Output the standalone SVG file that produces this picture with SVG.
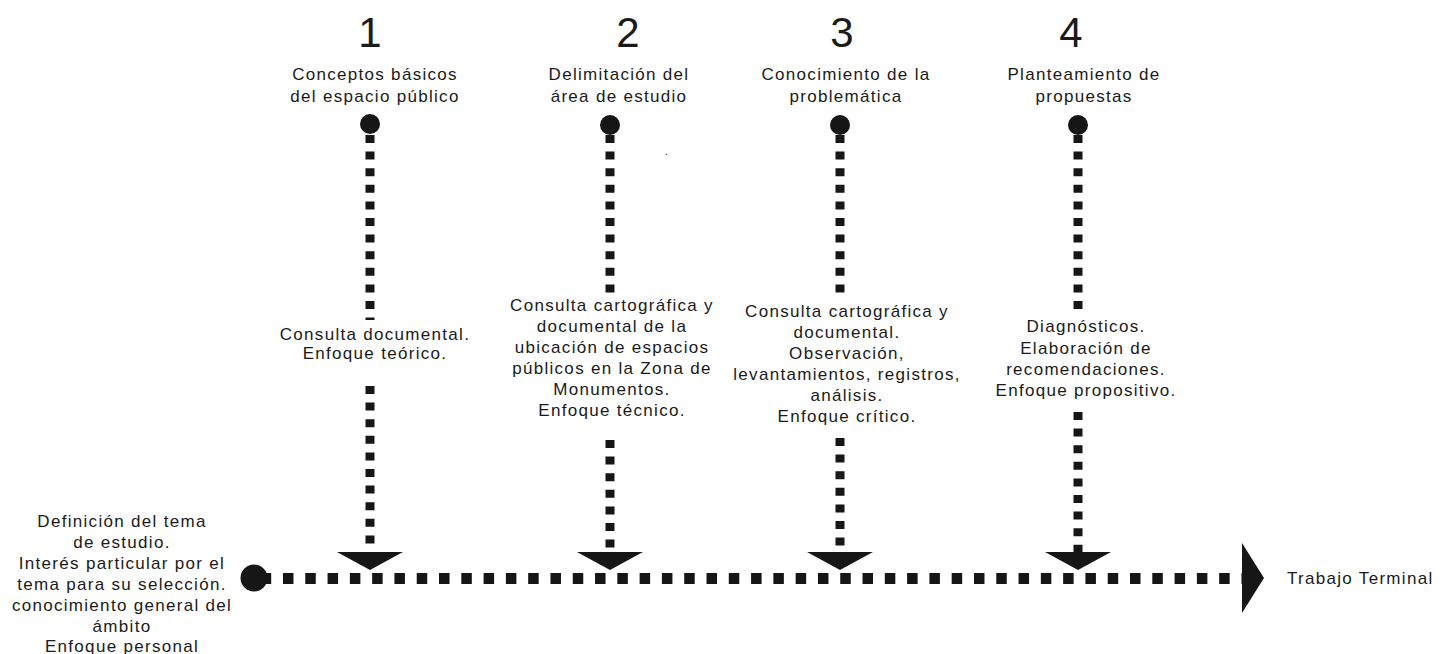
<svg xmlns="http://www.w3.org/2000/svg" width="1454" height="654" viewBox="0 0 1454 654">
<style>
text{font-family:"Liberation Sans",Arial,sans-serif;fill:#1a1a1a;font-size:17px;letter-spacing:1.3px;text-anchor:middle}
.num{font-size:42px;letter-spacing:0}
.v{stroke:#161616;stroke-width:9;stroke-dasharray:8 8.6;fill:none}
.h{stroke:#161616;stroke-width:11;stroke-dasharray:10.5 11.79;fill:none}
.dot{fill:#161616}
.tri{fill:#161616}
</style>
<g id="connectors">
<line class="h" x1="260.7" y1="578.5" x2="1245" y2="578.5"/>
<polygon class="tri" points="1242,543 1264,578 1242,613"/>
<line class="v" x1="370" y1="135" x2="370" y2="320"/>
<line class="v" x1="370" y1="386" x2="370" y2="552"/>
<polygon class="tri" points="337,552 403,552 370,570"/>
<line class="v" x1="610" y1="135" x2="610" y2="296"/>
<line class="v" x1="610" y1="440" x2="610" y2="552"/>
<polygon class="tri" points="577,552 643,552 610,570"/>
<line class="v" x1="840" y1="135" x2="840" y2="296"/>
<line class="v" x1="840" y1="438" x2="840" y2="552"/>
<polygon class="tri" points="807,552 873,552 840,570"/>
<line class="v" x1="1078" y1="135" x2="1078" y2="316"/>
<line class="v" x1="1078" y1="412" x2="1078" y2="552"/>
<polygon class="tri" points="1045,552 1111,552 1078,570"/>
</g>
<g id="start">
<circle class="dot" cx="254" cy="578" r="13.5"/>
<text x="122" y="527">Definición del tema</text>
<text x="122" y="548">de estudio.</text>
<text x="122" y="569">Interés particular por el</text>
<text x="122" y="590">tema para su selección.</text>
<text x="122" y="611">conocimiento general del</text>
<text x="122" y="632">ámbito</text>
<text x="122" y="652">Enfoque personal</text>
</g>
<g id="end">
<text x="1287" y="584" style="text-anchor:start">Trabajo Terminal</text>
</g>
<g id="step1">
<text class="num" x="370" y="47">1</text>
<text x="375" y="80">Conceptos básicos</text>
<text x="375" y="102">del espacio público</text>
<circle class="dot" cx="370" cy="124" r="10"/>
<text x="375" y="340">Consulta documental.</text>
<text x="375" y="359">Enfoque teórico.</text>
</g>
<g id="step2">
<text class="num" x="628" y="47">2</text>
<text x="619" y="80">Delimitación del</text>
<text x="619" y="102">área de estudio</text>
<circle class="dot" cx="610" cy="125" r="10"/>
<text x="667" y="155" style="font-size:10px">.</text>
<text x="612" y="311">Consulta cartográfica y</text>
<text x="612" y="332">documental de la</text>
<text x="612" y="353">ubicación de espacios</text>
<text x="612" y="374">públicos en la Zona de</text>
<text x="612" y="395">Monumentos.</text>
<text x="612" y="416">Enfoque técnico.</text>
</g>
<g id="step3">
<text class="num" x="842" y="47">3</text>
<text x="846" y="80">Conocimiento de la</text>
<text x="846" y="102">problemática</text>
<circle class="dot" cx="840" cy="125" r="10"/>
<text x="847" y="317">Consulta cartográfica y</text>
<text x="847" y="338">documental.</text>
<text x="847" y="359">Observación,</text>
<text x="847" y="380">levantamientos, registros,</text>
<text x="847" y="401">análisis.</text>
<text x="847" y="422">Enfoque crítico.</text>
</g>
<g id="step4">
<text class="num" x="1071" y="47">4</text>
<text x="1084" y="80">Planteamiento de</text>
<text x="1084" y="102">propuestas</text>
<circle class="dot" cx="1078" cy="125" r="10"/>
<text x="1086" y="332">Diagnósticos.</text>
<text x="1086" y="354">Elaboración de</text>
<text x="1086" y="375">recomendaciones.</text>
<text x="1086" y="396">Enfoque propositivo.</text>
</g>
</svg>
